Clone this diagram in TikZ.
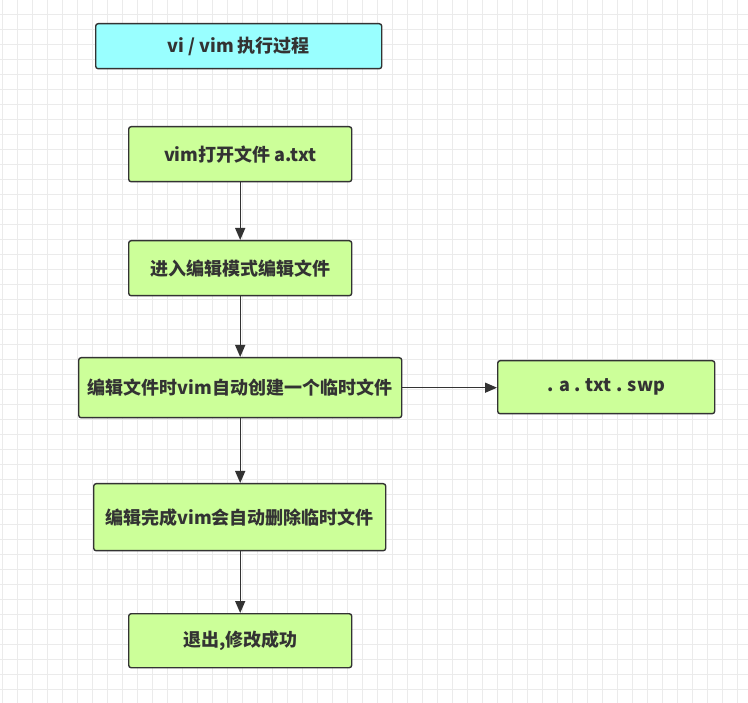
\documentclass[tikz,border=0pt]{standalone}
\usepackage{fontspec}
\setmainfont{Noto Sans CJK SC}
\usetikzlibrary{arrows.meta}
\definecolor{gridc}{HTML}{EBEBEB}
\definecolor{boxg}{HTML}{CCFF99}
\definecolor{boxc}{HTML}{99FFFF}
\definecolor{ink}{HTML}{333333}
\tikzset{
  flowbox/.style={draw=ink, line width=1.4pt, rounded corners=2.5pt, fill=boxg, text=ink,
    font=\fontsize{18}{21}\selectfont\bfseries, inner sep=0pt, anchor=north west},
  conn/.style={draw=ink, line width=1.4pt, -{Triangle[length=12pt,width=10pt]}}
}
\begin{document}
\begin{tikzpicture}[x=1pt,y=-1pt]
\useasboundingbox (0,0) rectangle (748,703);
\fill[white] (0,0) rectangle (748,703);
\foreach \i in {2,17,...,748} \draw[gridc, line width=0.8pt] (\i,0) -- (\i,703);
\foreach \j in {14,29,...,703} \draw[gridc, line width=0.8pt] (0,\j) -- (748,\j);
\node[flowbox, fill=boxc, minimum width=286pt, minimum height=45pt] (title) at (95,23) {vi / vim 执行过程};
\node[flowbox, minimum width=223pt, minimum height=55pt] (b1) at (128,126) {vim打开文件 a.txt};
\node[flowbox, minimum width=223pt, minimum height=55pt] (b2) at (128,240) {进入编辑模式编辑文件};
\node[flowbox, minimum width=323pt, minimum height=60pt] (b3) at (78,357) {编辑文件时vim自动创建一个临时文件};
\node[flowbox, minimum width=217pt, minimum height=53pt] (swp) at (497,360) {. a . txt . swp};
\node[flowbox, minimum width=292pt, minimum height=67pt] (b4) at (93,483) {编辑完成vim会自动删除临时文件};
\node[flowbox, minimum width=223pt, minimum height=54pt] (b5) at (128,613) {退出,修改成功};
\draw[conn] (b1.south) -- (b2.north);
\draw[conn] (b2.south) -- (b3.north -| b2.south);
\draw[conn] (b3.east) -- (swp.west |- b3.east);
\draw[conn] (b3.south -| b2.south) -- (b4.north -| b2.south);
\draw[conn] (b4.south -| b2.south) -- (b5.north);
\end{tikzpicture}
\end{document}
